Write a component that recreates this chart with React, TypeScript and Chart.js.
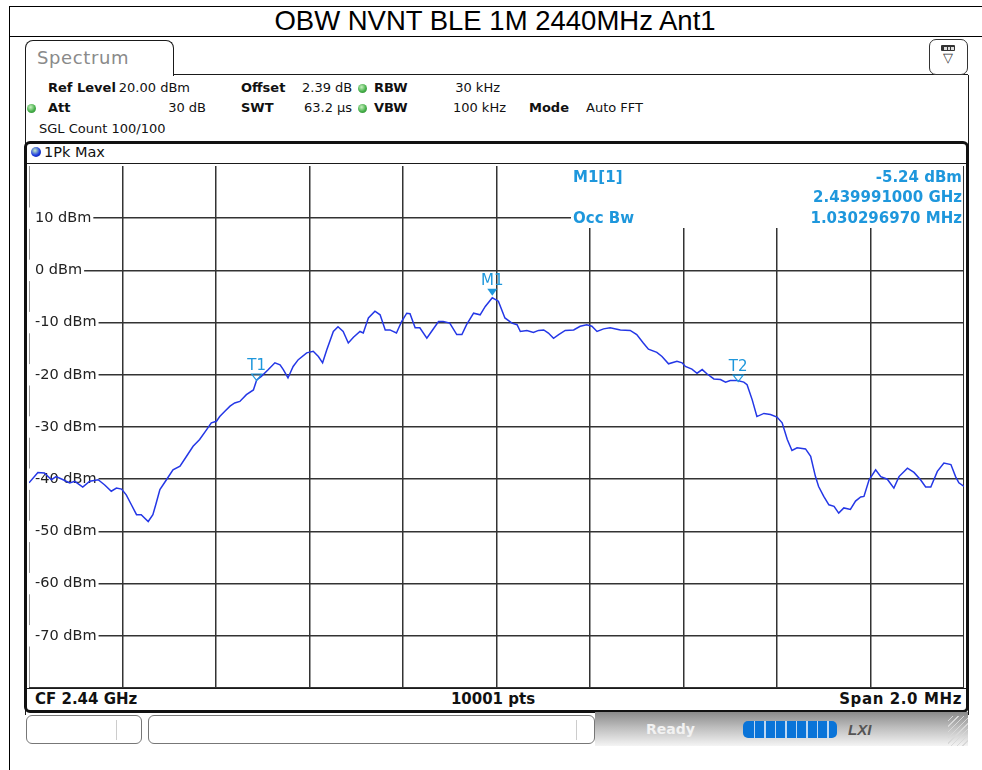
import React, { useEffect, useRef } from 'react';
import { Chart, registerables } from 'chart.js';

Chart.register(...registerables);

// ---- data ----
const freqMHz = [
  2439.000, 2439.019, 2439.033, 2439.048, 2439.058, 2439.073, 2439.087, 2439.098, 2439.115, 2439.130,
  2439.148, 2439.162, 2439.176, 2439.187, 2439.198, 2439.208, 2439.219, 2439.230, 2439.240, 2439.255,
  2439.265, 2439.272, 2439.280, 2439.294, 2439.308, 2439.323, 2439.337, 2439.351, 2439.365, 2439.380,
  2439.390, 2439.401, 2439.408, 2439.419, 2439.430, 2439.440, 2439.451, 2439.465, 2439.480, 2439.487,
  2439.497, 2439.512, 2439.526, 2439.537, 2439.544, 2439.554, 2439.565, 2439.576, 2439.594, 2439.608,
  2439.619, 2439.628, 2439.637, 2439.651, 2439.661, 2439.672, 2439.683, 2439.694, 2439.708, 2439.715,
  2439.726, 2439.740, 2439.751, 2439.762, 2439.772, 2439.786, 2439.797, 2439.808, 2439.815, 2439.826,
  2439.836, 2439.851, 2439.861, 2439.876, 2439.886, 2439.900, 2439.915, 2439.926, 2439.936, 2439.951,
  2439.965, 2439.976, 2439.991, 2440.004, 2440.018, 2440.033, 2440.044, 2440.051, 2440.065, 2440.079,
  2440.090, 2440.101, 2440.111, 2440.122, 2440.133, 2440.147, 2440.165, 2440.179, 2440.193, 2440.204,
  2440.215, 2440.229, 2440.243, 2440.265, 2440.286, 2440.300, 2440.314, 2440.325, 2440.343, 2440.354,
  2440.368, 2440.386, 2440.397, 2440.404, 2440.418, 2440.429, 2440.440, 2440.450, 2440.465, 2440.479,
  2440.490, 2440.500, 2440.515, 2440.529, 2440.536, 2440.547, 2440.557, 2440.572, 2440.586, 2440.600,
  2440.611, 2440.622, 2440.632, 2440.643, 2440.661, 2440.672, 2440.682, 2440.689, 2440.700, 2440.711,
  2440.722, 2440.732, 2440.743, 2440.757, 2440.768, 2440.779, 2440.786, 2440.797, 2440.811, 2440.822,
  2440.836, 2440.850, 2440.861, 2440.879, 2440.893, 2440.907, 2440.918, 2440.929, 2440.943, 2440.957,
  2440.972, 2440.982, 2440.989, 2441.000,
];

const levelDbm = [
  -40.7, -38.7, -38.8, -40.1, -39.5, -40.1, -40.7, -40.4, -41.5, -40.4,
  -40.1, -41.1, -42.3, -41.7, -41.9, -43.0, -44.9, -46.8, -46.8, -48.1,
  -46.8, -44.6, -42.0, -40.1, -38.2, -37.5, -35.6, -33.7, -32.4, -30.5,
  -29.2, -28.9, -28.0, -27.0, -26.0, -25.4, -25.1, -23.8, -22.9, -21.0,
  -20.3, -19.0, -17.7, -18.1, -19.0, -20.6, -18.4, -17.1, -15.8, -15.5,
  -16.5, -17.7, -15.2, -11.7, -10.8, -11.7, -13.9, -12.8, -11.7, -12.0,
  -9.1, -7.8, -8.5, -11.4, -11.4, -12.0, -9.8, -8.2, -8.3, -11.0,
  -11.0, -13.0, -11.7, -9.8, -9.8, -10.1, -12.3, -12.3, -10.4, -8.2,
  -8.5, -6.9, -5.24, -5.9, -9.1, -10.1, -10.4, -11.7, -11.5, -11.9,
  -11.5, -11.4, -12.0, -13.0, -12.3, -11.5, -11.4, -10.7, -10.4, -10.7,
  -11.7, -11.2, -11.0, -11.4, -11.5, -12.3, -13.9, -15.1, -15.7, -16.5,
  -17.9, -17.4, -17.7, -18.4, -18.9, -19.7, -19.0, -19.8, -20.8, -20.9,
  -21.4, -21.1, -21.1, -21.4, -21.9, -24.8, -28.0, -27.4, -27.6, -28.1,
  -29.2, -32.4, -34.5, -34.0, -34.2, -35.6, -39.4, -41.4, -43.3, -44.9,
  -45.2, -46.5, -45.5, -45.8, -44.2, -43.4, -43.3, -40.1, -38.2, -39.5,
  -40.0, -41.7, -39.5, -37.9, -38.7, -40.1, -41.5, -41.5, -38.5, -36.9,
  -37.2, -39.5, -40.7, -41.4,
];

const yMinDbm = -80;
const yMaxDbm = 20;
const yStepDbm = 10;
const xStartMHz = 2439;
const xStopMHz = 2441;
const xStepMHz = 0.2;

const markerNames = ['M1', 'T1', 'T2'];
const markerFreqMHz = [2439.991, 2439.487, 2440.517];
const markerLevelDbm = [-5.24, -20.9, -21.1];
const markerFilled = [true, false, false];

const MK = '#1e97dc';
const TRACE = '#2437e6';
const GRID = '#333333';

const markerPlugin = {
  id: 'rsMarkers',
  afterDatasetsDraw(chart: any) {
    const { ctx } = chart;
    const xs = chart.scales.x;
    const ys = chart.scales.y;
    ctx.save();
    markerNames.forEach((name, i) => {
      const px = xs.getPixelForValue(markerFreqMHz[i]);
      const py = ys.getPixelForValue(markerLevelDbm[i]);
      const filled = markerFilled[i];
      const tip = filled ? py - 2 : py + 1;
      const h = filled ? 7 : 6.5;
      const hw = 5;
      ctx.beginPath();
      ctx.moveTo(px - hw, tip - h);
      ctx.lineTo(px + hw, tip - h);
      ctx.lineTo(px, tip);
      ctx.closePath();
      if (filled) {
        ctx.fillStyle = MK;
        ctx.fill();
      } else {
        ctx.strokeStyle = MK;
        ctx.lineWidth = 1.2;
        ctx.stroke();
      }
      ctx.fillStyle = MK;
      ctx.font = '15px "DejaVu Sans"';
      ctx.textAlign = 'center';
      ctx.textBaseline = 'alphabetic';
      ctx.fillText(name, px, tip - h - 4);
    });
    ctx.restore();
  },
};

function Txt(props: {
  x: number; y: number; children: React.ReactNode; bold?: boolean; size?: number;
  color?: string; align?: 'left' | 'right' | 'center'; family?: string; ls?: number;
}) {
  const { x, y, children, bold, size = 13, color = '#111', align = 'left', family, ls } = props;
  const st: React.CSSProperties = {
    position: 'absolute', top: y - 10, height: 20, lineHeight: '20px', whiteSpace: 'nowrap',
    fontSize: size, fontWeight: bold ? 'bold' : 'normal', color,
    fontFamily: family || '"DejaVu Sans", sans-serif',
    letterSpacing: ls ? ls : undefined,
  };
  if (align === 'left') st.left = x;
  else if (align === 'right') st.right = 982 - x;
  else { st.left = x - 300; st.width = 600; st.textAlign = 'center'; }
  return <div style={st}>{children}</div>;
}

function Dot({ x, y, color = '#46b04a', r = 4.5, border = '#2e7d32' }: { x: number; y: number; color?: string; r?: number; border?: string }) {
  return (
    <div style={{
      position: 'absolute', left: x - r, top: y - r, width: 2 * r, height: 2 * r, borderRadius: '50%',
      background: `radial-gradient(circle at 40% 35%, #c8f0c0 0%, ${color} 55%, ${border} 100%)`,
    }} />
  );
}

const zeroFitY = (s: any) => { s.width = 0; s.paddingTop = 0; s.paddingBottom = 0; s.paddingLeft = 0; s.paddingRight = 0; };
const zeroFitX = (s: any) => { s.height = 0; s.paddingTop = 0; s.paddingBottom = 0; s.paddingLeft = 0; s.paddingRight = 0; };

export default function App() {
  const ref = useRef<HTMLCanvasElement | null>(null);

  useEffect(() => {
    if (!ref.current) return;
    const chart = new Chart(ref.current, {
      type: 'line',
      data: {
        datasets: [{
          data: freqMHz.map((f, i) => ({ x: f, y: levelDbm[i] })),
          borderColor: TRACE,
          borderWidth: 1.5,
          pointRadius: 0,
          tension: 0,
          fill: false,
        }],
      },
      options: {
        animation: false,
        responsive: false,
        devicePixelRatio: 1,
        layout: { padding: 0, autoPadding: false },
        plugins: { legend: { display: false }, tooltip: { enabled: false }, title: { display: false } },
        scales: {
          x: {
            type: 'linear', min: xStartMHz, max: xStopMHz,
            ticks: { display: false, stepSize: xStepMHz },
            grid: { color: GRID, lineWidth: 1.5, drawTicks: false },
            border: { display: false },
            afterFit: zeroFitX,
          },
          y: {
            type: 'linear', min: yMinDbm, max: yMaxDbm,
            ticks: {
              stepSize: yStepDbm,
              mirror: true,
              padding: 6,
              color: '#222',
              font: { family: '"DejaVu Sans"', size: 14.5 },
              callback: (v: any) => (v === yMaxDbm || v === yMinDbm ? '' : `${v} dBm`),
              showLabelBackdrop: true,
              backdropPadding: { left: 7, right: 2, top: 2, bottom: 2 },
              backdropColor: (c: any) => (c.tick && (c.tick.value === yMaxDbm || c.tick.value === yMinDbm) ? 'rgba(0,0,0,0)' : '#ffffff'),
            } as any,
            grid: {
              color: (c: any) => (c.tick && c.tick.value === yMaxDbm ? 'rgba(0,0,0,0)' : GRID),
              lineWidth: 1.5, drawTicks: false,
            },
            border: { display: false },
            afterFit: zeroFitY,
          },
        },
      },
      plugins: [markerPlugin],
    } as any);
    return () => chart.destroy();
  }, []);

  const line = '#1a1a1a';

  return (
    <div style={{
      position: 'absolute', left: 0, top: 0, width: 982, height: 770, overflow: 'hidden',
      background: '#fff', fontFamily: '"DejaVu Sans", sans-serif',
    }}>
      {/* outer table borders */}
      <div style={{ position: 'absolute', left: 9, top: 6, width: 980, height: 770, borderLeft: '1px solid #000', borderTop: '1px solid #000' }} />
      <div style={{ position: 'absolute', left: 9, top: 36, width: 980, height: 0, borderTop: '1px solid #000' }} />
      <Txt x={495} y={21} align="center" size={27.5} family='"Liberation Sans", Arial, sans-serif' color="#000">
        OBW NVNT BLE 1M 2440MHz Ant1
      </Txt>

      {/* window frame */}
      <div style={{ position: 'absolute', left: 25, top: 75, width: 942, height: 640, borderLeft: `1.5px solid ${line}`, borderRight: `1.5px solid ${line}` }} />
      <div style={{ position: 'absolute', left: 174, top: 74, width: 794, height: 0, borderTop: `1.5px solid ${line}` }} />
      {/* tab */}
      <div style={{
        position: 'absolute', left: 25, top: 40, width: 149, height: 36, background: '#fff',
        borderLeft: `1.5px solid ${line}`, borderTop: `1.5px solid ${line}`, borderRight: `1.5px solid ${line}`,
        borderRadius: '8px 8px 0 0', boxSizing: 'border-box',
      }} />
      <Txt x={37} y={58} size={18} color="#8a8a8a" ls={0.6}>Spectrum</Txt>

      {/* top-right icon */}
      <div style={{
        position: 'absolute', left: 929, top: 39, width: 39, height: 36, boxSizing: 'border-box',
        border: '1.5px solid #333', borderRadius: 7, background: '#fff',
      }}>
        <div style={{ position: 'absolute', left: 11, top: 5, width: 14, height: 6, background: '#333', borderRadius: 1 }}>
          <div style={{ position: 'absolute', left: 3, top: 1.5, width: 2.5, height: 3, background: '#ddd' }} />
          <div style={{ position: 'absolute', left: 6.5, top: 1.5, width: 2.5, height: 3, background: '#ddd' }} />
          <div style={{ position: 'absolute', left: 10, top: 1.5, width: 2.5, height: 3, background: '#ddd' }} />
        </div>
        <div style={{ position: 'absolute', left: 0, top: 11, width: 36, textAlign: 'center', fontSize: 13, lineHeight: '14px', color: '#333' }}>▽</div>
      </div>

      {/* header parameters */}
      <Txt x={48} y={88} bold>Ref Level</Txt>
      <Txt x={190} y={88} align="right">20.00 dBm</Txt>
      <Txt x={241} y={88} bold>Offset</Txt>
      <Txt x={302} y={88}>2.39 dB</Txt>
      <Dot x={362} y={88} />
      <Txt x={374} y={88} bold>RBW</Txt>
      <Txt x={500} y={88} align="right">30 kHz</Txt>

      <Dot x={31} y={108} />
      <Txt x={48} y={108} bold>Att</Txt>
      <Txt x={206} y={108} align="right">30 dB</Txt>
      <Txt x={241} y={108} bold>SWT</Txt>
      <Txt x={304} y={108}>63.2 µs</Txt>
      <Dot x={362} y={108} />
      <Txt x={374} y={108} bold>VBW</Txt>
      <Txt x={506} y={108} align="right">100 kHz</Txt>
      <Txt x={529} y={108} bold>Mode</Txt>
      <Txt x={586} y={108}>Auto FFT</Txt>

      <Txt x={39} y={129}>SGL Count 100/100</Txt>

      {/* plot frame */}
      <div style={{
        position: 'absolute', left: 24, top: 141, width: 945, height: 572, boxSizing: 'border-box',
        border: '3px solid #111', borderRadius: 6, background: '#fff',
      }} />
      <div style={{ position: 'absolute', left: 27, top: 163, width: 939, height: 0, borderTop: `1.5px solid ${line}` }} />
      <Dot x={36} y={152} r={5} color="#1c3be0" border="#0a1a80" />
      <Txt x={44} y={152} size={14.5}>1Pk Max</Txt>

      <canvas ref={ref} width={935} height={522} style={{ position: 'absolute', left: 29, top: 166, width: 935, height: 522 }} />

      <div style={{ position: 'absolute', left: 27, top: 688, width: 939, height: 0, borderTop: `1.5px solid ${line}` }} />

      {/* marker info box */}
      <div style={{ position: 'absolute', left: 571, top: 165, width: 392, height: 63, background: '#fff' }} />
      <Txt x={573} y={177} bold size={15} color={MK}>M1[1]</Txt>
      <Txt x={962} y={177} bold size={15} color={MK} align="right">-5.24 dBm</Txt>
      <Txt x={962} y={197} bold size={15} color={MK} align="right">2.439991000 GHz</Txt>
      <Txt x={573} y={218} bold size={15} color={MK}>Occ Bw</Txt>
      <Txt x={962} y={218} bold size={15} color={MK} align="right">1.030296970 MHz</Txt>

      {/* bottom row */}
      <Txt x={35} y={699} bold size={15}>CF 2.44 GHz</Txt>
      <Txt x={493} y={699} bold size={15} align="center">10001 pts</Txt>
      <Txt x={962} y={699} bold size={15} align="right" ls={0.6}>Span 2.0 MHz</Txt>

      {/* status bar */}
      <div style={{ position: 'absolute', left: 595, top: 712, width: 373, height: 34, background: 'linear-gradient(to bottom, #8a8a8a 0%, #bdbdbd 45%, #f4f4f4 100%)' }} />
      <div style={{ position: 'absolute', left: 948, top: 716, width: 20, height: 30, background: 'repeating-linear-gradient(135deg, rgba(255,255,255,0) 0px, rgba(255,255,255,0) 3px, #d8d8d8 3px, #d8d8d8 4px)' }} />
      <div style={{ position: 'absolute', left: 26, top: 715, width: 116, height: 29, boxSizing: 'border-box', border: '1.5px solid #777', borderRadius: 6, background: '#fff' }} />
      <div style={{ position: 'absolute', left: 116, top: 720, width: 1, height: 20, background: '#ccc' }} />
      <div style={{ position: 'absolute', left: 148, top: 715, width: 447, height: 29, boxSizing: 'border-box', border: '1.5px solid #777', borderRadius: 6, background: '#fff' }} />
      <div style={{ position: 'absolute', left: 576, top: 720, width: 1, height: 20, background: '#ccc' }} />
      <Txt x={646} y={729} bold size={14} color="#f2f2f2">Ready</Txt>
      <div style={{ position: 'absolute', left: 743, top: 721, width: 94, height: 17, borderRadius: 5, background: '#0a74d8', overflow: 'hidden' }}>
        {[1, 2, 3, 4, 5, 6, 7, 8].map((k) => (
          <div key={k} style={{ position: 'absolute', left: k * 10.5, top: 0, width: 1.5, height: 17, background: '#bcd8f4' }} />
        ))}
      </div>
      <Txt x={848} y={730} bold size={15} color="#555" family='"Liberation Sans", sans-serif'><i>LXI</i></Txt>
    </div>
  );
}
